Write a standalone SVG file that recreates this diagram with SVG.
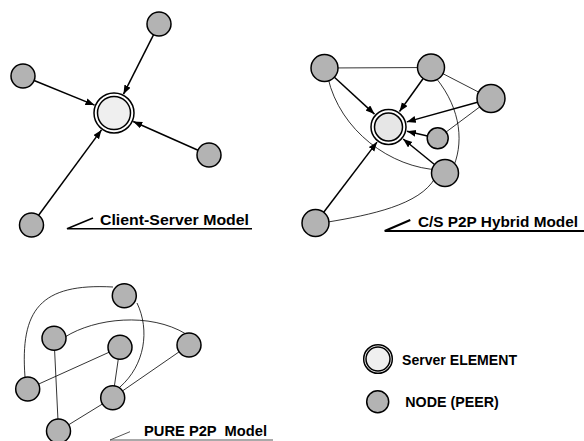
<svg xmlns="http://www.w3.org/2000/svg" width="584" height="441" viewBox="0 0 584 441">
<style>
.node{fill:#b3b3b3;stroke:#000;stroke-width:1.5}
.srvo{fill:#fff;stroke:#000;stroke-width:1.5}
.srvi{fill:#efefef;stroke:#000;stroke-width:1.5}
.arr{stroke:#000;stroke-width:1.5;fill:none;marker-end:url(#ah)}
.thin{stroke:#000;stroke-width:0.8;fill:none}
.lbl{font-family:"Liberation Sans",Arial,sans-serif;font-weight:bold;font-size:15px;fill:#000}
.ul{stroke:#000;stroke-width:1.5;fill:none}
</style>
<defs>
<marker id="ah" markerUnits="userSpaceOnUse" markerWidth="10" markerHeight="8" refX="9" refY="3.5" orient="auto">
<path d="M0,0 L9,3.5 L0,7 z" fill="#000"/>
</marker>
</defs>
<rect width="584" height="441" fill="#fff"/>
<g id="connectors">
<line class="arr" x1="153.6" y1="34.7" x2="123.5" y2="94.2"/>
<line class="arr" x1="34.1" y1="80.5" x2="94.5" y2="105.1"/>
<line class="arr" x1="198" y1="150.2" x2="133.2" y2="121.5"/>
<line class="arr" x1="38.6" y1="215.3" x2="101.5" y2="129.9"/>
<line class="thin" x1="324.5" y1="68" x2="431" y2="67.5"/>
<line class="thin" x1="431" y1="67.5" x2="491" y2="98.5"/>
<line class="thin" x1="491" y1="98.5" x2="437.7" y2="138.3"/>
<path class="thin" d="M328,78 C340,130 390,168 440,170"/>
<path class="thin" d="M436,78 C462,110 464,145 452,170"/>
<path class="thin" d="M328,222 C370,215 420,205 435,178"/>
<line class="arr" x1="334.4" y1="77.2" x2="374.5" y2="114.1"/>
<line class="arr" x1="423.2" y1="78.5" x2="399.5" y2="111.5"/>
<line class="arr" x1="477.5" y1="102.3" x2="406.8" y2="121.9"/>
<line class="arr" x1="427.5" y1="136" x2="407" y2="131.3"/>
<line class="arr" x1="434.5" y1="164.5" x2="403.2" y2="139"/>
<line class="arr" x1="323.7" y1="212.3" x2="377" y2="142.1"/>
<path class="thin" d="M25,377 C20,310 40,283 113,287"/>
<path class="thin" d="M137,303 C150,330 145,365 120,387"/>
<path class="thin" d="M65,337 C95,318 150,312 186,334"/>
<line class="thin" x1="54" y1="338" x2="58.5" y2="431"/>
<line class="thin" x1="27.7" y1="389" x2="120" y2="347.3"/>
<line class="thin" x1="120" y1="347.3" x2="112.7" y2="397.7"/>
<line class="thin" x1="112.7" y1="397.7" x2="189" y2="345"/>
<line class="thin" x1="112.7" y1="397.7" x2="58.5" y2="431"/>
</g>
<g id="cs-server"><circle class="srvo" cx="114" cy="113" r="20"/><circle class="srvi" cx="114" cy="113" r="16.5"/></g>
<g id="cs-n1"><circle class="node" cx="159" cy="24" r="12"/></g>
<g id="cs-n2"><circle class="node" cx="23" cy="76" r="12"/></g>
<g id="cs-n3"><circle class="node" cx="209" cy="155" r="12"/></g>
<g id="cs-n4"><circle class="node" cx="31.5" cy="225" r="12"/></g>
<g id="cs-label">
<text class="lbl" x="100" y="225" textLength="149" lengthAdjust="spacingAndGlyphs">Client-Server Model</text>
<path class="ul" d="M93,218 L67,228.7 L252,228.7"/>
</g>
<g id="hy-server"><circle class="srvo" cx="388.5" cy="127" r="17.5"/><circle class="srvi" cx="388.5" cy="127" r="14" style="fill:#e6e6e6"/></g>
<g id="hy-n1"><circle class="node" cx="324.5" cy="68" r="13.5"/></g>
<g id="hy-n2"><circle class="node" cx="431" cy="67.5" r="13.5"/></g>
<g id="hy-n3"><circle class="node" cx="491" cy="98.5" r="14"/></g>
<g id="hy-n4"><circle class="node" cx="437.7" cy="138.3" r="10.5"/></g>
<g id="hy-n5"><circle class="node" cx="445" cy="173" r="13.5"/></g>
<g id="hy-n6"><circle class="node" cx="315.5" cy="223" r="13.5"/></g>
<g id="hy-label">
<text class="lbl" x="418" y="226.7" textLength="160" lengthAdjust="spacingAndGlyphs">C/S P2P Hybrid Model</text>
<path class="ul" d="M410.3,220 L384.7,231 L584,231" style="stroke-width:2"/>
</g>
<g id="p-a"><circle class="node" cx="124.3" cy="295.7" r="12"/></g>
<g id="p-b"><circle class="node" cx="54" cy="338.3" r="12"/></g>
<g id="p-c"><circle class="node" cx="120" cy="347.3" r="12"/></g>
<g id="p-d"><circle class="node" cx="189" cy="345" r="12"/></g>
<g id="p-e"><circle class="node" cx="27.7" cy="389" r="12"/></g>
<g id="p-f"><circle class="node" cx="112.7" cy="397.7" r="12"/></g>
<g id="p-g"><circle class="node" cx="58.5" cy="431" r="12"/></g>
<g id="p-label">
<text class="lbl" x="144" y="436" textLength="123" lengthAdjust="spacingAndGlyphs" xml:space="preserve">PURE P2P  Model</text>
<path class="ul" d="M130,431.7 L110,440 L273,440" style="stroke-width:1;stroke:#555"/>
</g>
<g id="legend-server">
<circle class="srvo" cx="378" cy="359" r="14.3"/><circle class="srvi" cx="378" cy="359" r="12"/>
<text class="lbl" x="402" y="365" textLength="115" lengthAdjust="spacingAndGlyphs">Server ELEMENT</text>
</g>
<g id="legend-node">
<circle class="node" cx="377.7" cy="401.7" r="11"/>
<text class="lbl" x="405.3" y="407" textLength="93.5" lengthAdjust="spacingAndGlyphs">NODE (PEER)</text>
</g>
</svg>
